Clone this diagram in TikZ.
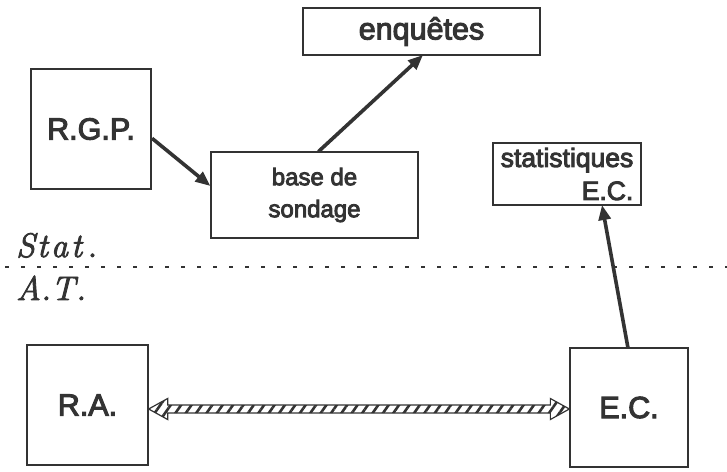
\documentclass[tikz,border=0pt]{standalone}
\usepackage{fontspec}
\newfontfamily\boxfont{Liberation Sans}[FakeBold=3.5]
\newfontfamily\labelfont{Latin Modern Roman}[FakeBold=2.5]
\usetikzlibrary{arrows.meta,patterns.meta,calc}
\definecolor{ink}{gray}{0.2}
\begin{document}
\begin{tikzpicture}[x=1pt,y=-1pt,
  box/.style={draw=ink, line width=1.3pt, rectangle, inner sep=0pt, text=ink},
  bigtext/.style={font=\boxfont\fontsize{30.5}{36}\selectfont},
  midtext/.style={font=\boxfont\fontsize{26.5}{33}\selectfont},
  smalltext/.style={font=\boxfont\fontsize{24}{32}\selectfont},
  flow/.style={draw=ink, line width=3.6pt, -{Triangle[length=15pt,width=12pt]}, shorten <=0.5pt},
  sidelabel/.style={anchor=base west, inner sep=0pt, text=ink, font=\labelfont\itshape\fontsize{34}{36}\selectfont}
]
\useasboundingbox (0,0) rectangle (727,471);

% boxes of the upper (statistical) level
\node[box, bigtext, minimum width=237, minimum height=47] (enq) at (421.5,31.5) {enquêtes};
\node[box, bigtext, minimum width=120, minimum height=120] (rgp) at (91,129) {R.G.P.};
\node[box, smalltext, minimum width=207, minimum height=86, align=center] (base) at (314.5,195) {base de\\sondage};
\node[box, midtext, minimum width=148, minimum height=62, align=right] (stat) at (567,174) {statistiques\\E.C.};

% boxes of the lower (administrative) level
\node[box, bigtext, minimum width=121, minimum height=120] (ra) at (87.5,405) {R.A.};
\node[box, bigtext, minimum width=118, minimum height=119] (ec) at (629,407.5) {E.C.};

% level separator and level names
\coordinate (sepL) at (5,267);
\coordinate (sepR) at (727,267);
\draw[ink, line width=1.3pt, dash pattern=on 4pt off 12pt] (sepL) -- (sepR);
\node[sidelabel] (lstat) at (16,257) {S\kern2pt t\kern3pt a\kern3pt t\kern5pt.};
\node[sidelabel] (lat) at (16,300) {A.\kern0pt T\kern1pt.};

% flows
\draw[flow] (rgp.east |- 0,138) -- (base.west |- 0,186);
\draw[flow] (318,152) coordinate (bt) (bt) -- (423,55) coordinate (et);
\draw[flow] (628,348) coordinate (ect) (ect) -- (602,205) coordinate (stb);

% hatched two-way correspondence arrow
\coordinate (lt) at (ra.east |- 0,409);
\coordinate (rt) at (ec.west |- 0,409);
\draw[ink, line width=1.2pt, pattern={Lines[angle=55,distance=8.5pt,line width=2.6pt]}, pattern color=ink]
  (lt) -- ++(19,-10.5) -- ++(0,6.5) -- ($(rt)+(-19,-4)$) -- ++(0,-6.5) -- (rt)
  -- ++(-19,10.5) -- ++(0,-6.5) -- ($(lt)+(19,4)$) -- ++(0,6.5) -- cycle;
\end{tikzpicture}
\end{document}
